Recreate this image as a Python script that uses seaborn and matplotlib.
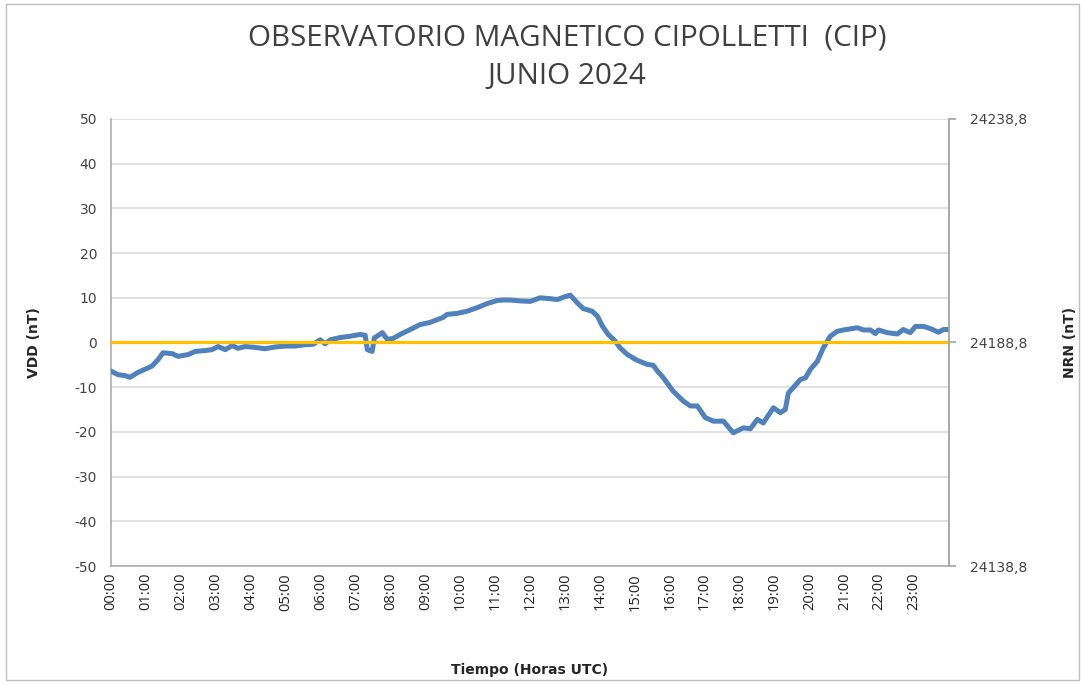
import numpy as np
import pandas as pd
import matplotlib
matplotlib.use("Agg")
import matplotlib.pyplot as plt
from matplotlib.patches import Rectangle
import seaborn as sns

# readings (hours UTC, nT)
hours = [0.00, 0.20, 0.40, 0.54, 0.77, 0.97, 1.17, 1.35, 1.49, 1.75, 1.92, 2.21,
         2.41, 2.69, 2.89, 3.07, 3.27, 3.47, 3.64, 3.84, 4.13, 4.41, 4.70, 4.99,
         5.27, 5.56, 5.79, 5.99, 6.13, 6.28, 6.56, 6.85, 7.13, 7.28, 7.34, 7.48,
         7.54, 7.77, 7.91, 8.08, 8.28, 8.57, 8.85, 9.14, 9.34, 9.51, 9.63, 9.91,
         10.20, 10.49, 10.77, 11.06, 11.23, 11.43, 11.72, 12.01, 12.29, 12.58, 12.78, 12.95,
         13.15, 13.35, 13.52, 13.78, 13.93, 14.07, 14.24, 14.44, 14.58, 14.79, 15.07, 15.36,
         15.53, 15.64, 15.82, 16.10, 16.39, 16.59, 16.79, 17.02, 17.25, 17.54, 17.82, 18.11,
         18.31, 18.51, 18.68, 18.97, 19.17, 19.31, 19.40, 19.54, 19.74, 19.89, 20.03, 20.23,
         20.40, 20.60, 20.80, 20.97, 21.38, 21.55, 21.75, 21.89, 21.98, 22.23, 22.52, 22.69,
         22.89, 23.04, 23.27, 23.47, 23.70, 23.84, 23.98]
vdd = [-6.4, -7.2, -7.4, -7.8, -6.7, -6.0, -5.3, -3.8, -2.3, -2.5, -3.1, -2.7,
       -2.0, -1.8, -1.6, -0.9, -1.6, -0.7, -1.3, -0.9, -1.1, -1.4, -1.0, -0.8,
       -0.8, -0.5, -0.4, 0.6, -0.3, 0.6, 1.1, 1.4, 1.8, 1.6, -1.6, -2.0,
       1.0, 2.2, 0.7, 0.9, 1.8, 2.9, 4.0, 4.5, 5.1, 5.6, 6.3, 6.5,
       7.0, 7.8, 8.7, 9.4, 9.5, 9.5, 9.3, 9.2, 10.0, 9.8, 9.6, 10.1,
       10.6, 8.9, 7.6, 7.0, 5.9, 3.7, 1.8, 0.3, -1.2, -2.7, -4.0, -4.9,
       -5.1, -6.3, -7.9, -10.9, -13.1, -14.2, -14.2, -16.8, -17.6, -17.6, -20.2, -19.1,
       -19.3, -17.2, -18.0, -14.6, -15.7, -15.0, -11.3, -10.1, -8.3, -7.9, -6.0, -4.2,
       -1.2, 1.4, 2.5, 2.8, 3.3, 2.8, 2.8, 2.0, 2.8, 2.2, 1.9, 2.9,
       2.2, 3.6, 3.6, 3.1, 2.3, 2.9, 2.9]

hour_ticks = list(range(24))
hour_labels = ["%02d:00" % h for h in hour_ticks]
left_ticks = [-50, -40, -30, -20, -10, 0, 10, 20, 30, 40, 50]
nrn_base = 24188.8
right_ticks = [24138.8, 24188.8, 24238.8]

df = pd.DataFrame({"hora": hours, "vdd": vdd})

sns.set_theme(style="white")
plt.rcParams["font.family"] = ["DejaVu Sans"]

fig = plt.figure(figsize=(10.81, 6.83), dpi=100)
ax = fig.add_axes([0.1027, 0.1713, 0.7752, 0.6545])

grid_col = "#d9d9d9"
for t in left_ticks:
    ax.axhline(t, color=grid_col, lw=1.1, zorder=0)

sns.lineplot(data=df, x="hora", y="vdd", ax=ax, color="#4f81bd", lw=3.6,
             zorder=3, estimator=None, sort=False)
ax.axhline(0, color="#ffc000", lw=2.3, zorder=4)

ax.set_xlim(0, 24)
ax.set_ylim(-50, 50)
ax.set_xticks(hour_ticks)
ax.set_xticklabels(hour_labels, rotation=90, fontsize=10.5, color="#222222",
                   family=["Open Sans", "DejaVu Sans"])
ax.set_yticks(left_ticks)
ax.set_yticklabels([str(t) for t in left_ticks], fontsize=10, color="#444444")
ax.tick_params(axis="both", length=0, pad=10)
ax.tick_params(axis="x", pad=5)

ax.spines["top"].set_visible(False)
for side in ["left", "bottom", "right"]:
    ax.spines[side].set_color("#a6a6a6")
    ax.spines[side].set_linewidth(1.1)

ax.set_xlabel("Tiempo (Horas UTC)", fontsize=10, fontweight="bold", labelpad=38)
ax.set_ylabel("VDD (nT)", fontsize=10, fontweight="bold", labelpad=24)

ax2 = ax.twinx()
ax2.set_ylim(nrn_base - 50, nrn_base + 50)
ax2.set_yticks(right_ticks)
ax2.set_yticklabels([("%.1f" % t).replace(".", ",") for t in right_ticks],
                    fontsize=10, color="#444444")
ax2.tick_params(axis="y", length=5, color="#a6a6a6", pad=10, direction="out")
for side in ["top", "left", "bottom"]:
    ax2.spines[side].set_visible(False)
ax2.spines["right"].set_color("#a6a6a6")
ax2.spines["right"].set_linewidth(1.1)
ax2.set_ylabel("NRN (nT)", fontsize=10, fontweight="bold", labelpad=26)
ax2.grid(False)

fig.text(0.5245, 0.945, "OBSERVATORIO MAGNETICO CIPOLLETTI  (CIP)",
         ha="center", va="center", fontsize=21.3, color="#404040",
         family=["Open Sans", "DejaVu Sans"])
fig.text(0.5245, 0.888, "JUNIO 2024", ha="center", va="center",
         fontsize=21.3, color="#404040", family=["Open Sans", "DejaVu Sans"])

fig.patches.append(Rectangle((0.006, 0.004), 0.992, 0.99, transform=fig.transFigure,
                             fill=False, edgecolor="#bfbfbf", lw=1.0))

fig.savefig("out.png", dpi=100)
